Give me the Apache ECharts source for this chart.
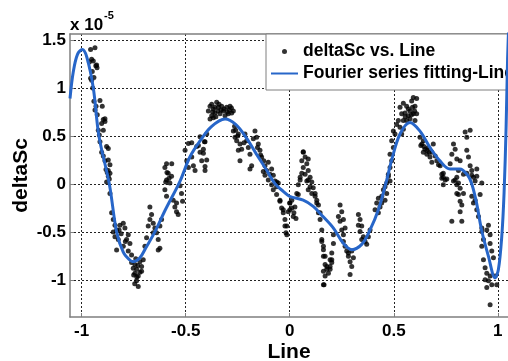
<!DOCTYPE html>
<html>
<head>
<meta charset="utf-8">
<script src="https://cdn.jsdelivr.net/npm/echarts@6/dist/echarts.min.js"></script>
<style>
  html, body { margin: 0; padding: 0; background: #fff; }
  #chart { width: 508px; height: 361px; }
</style>
</head>
<body>
<div id="chart"></div>
<script>
// values in units of 1e-5
const xTicks = [-1, -0.5, 0, 0.5, 1];
const yTicks = [-1, -0.5, 0, 0.5, 1, 1.5];

// fitted Fourier curve
const fitPoints = [
  [-1.056, 0.89], [-1.04, 1.17], [-1.02, 1.35], [-0.997, 1.40], [-0.975, 1.32],
  [-0.944, 1.00], [-0.917, 0.50], [-0.867, 0.00], [-0.832, -0.50], [-0.80, -0.71],
  [-0.77, -0.79], [-0.752, -0.81], [-0.72, -0.77], [-0.69, -0.66], [-0.648, -0.50],
  [-0.60, -0.28], [-0.527, 0.03], [-0.48, 0.28], [-0.43, 0.45], [-0.38, 0.59],
  [-0.311, 0.675], [-0.26, 0.62], [-0.21, 0.485], [-0.16, 0.31], [-0.11, 0.14],
  [-0.07, 0.00], [-0.03, -0.08], [0.0, -0.13], [0.065, -0.17], [0.113, -0.235],
  [0.16, -0.34], [0.21, -0.46], [0.258, -0.62], [0.298, -0.685], [0.346, -0.63],
  [0.386, -0.48], [0.426, -0.27], [0.466, 0.04], [0.49, 0.25], [0.53, 0.52],
  [0.578, 0.64], [0.626, 0.55], [0.674, 0.38], [0.722, 0.24], [0.77, 0.155],
  [0.818, 0.155], [0.855, 0.09], [0.874, 0.007], [0.898, -0.2], [0.922, -0.48],
  [0.955, -0.755], [0.987, -0.98], [1.003, -0.89], [1.019, -0.55], [1.03, -0.1],
  [1.04, 0.6], [1.047, 1.3], [1.055, 1.8]
];

// scattered samples, grouped by stretch of the x axis
const dotsFirstPeak = [
  [-0.957, 1.40], [-0.936, 1.42], [-0.963, 1.27], [-0.952, 1.30], [-0.944, 1.28], [-0.928, 1.24],
  [-0.932, 1.23], [-0.926, 1.21], [-0.949, 1.17], [-0.941, 1.11], [-0.952, 1.08], [-0.957, 1.10],
  [-0.947, 1.00], [-0.912, 0.87], [-0.941, 0.86], [-0.931, 0.81], [-0.901, 0.81], [-0.936, 0.77],
  [-0.925, 0.72], [-0.888, 0.68], [-0.896, 0.67], [-0.888, 0.65], [-0.904, 0.63], [-0.92, 0.56],
  [-0.896, 0.56], [-0.915, 0.51], [-0.912, 0.44], [-0.88, 0.39], [-0.872, 0.37], [-0.904, 0.33],
  [-0.896, 0.29], [-0.872, 0.25], [-0.888, 0.24], [-0.864, 0.20], [-0.883, 0.15], [-0.877, 0.12],
  [-0.864, 0.11], [-0.872, 0.08], [-0.867, 0.05], [-0.88, 0.02]
];
const dotsFirstDip = [
  [-0.872, 0.14], [-0.864, -0.10], [-0.856, -0.30], [-0.848, -0.37], [-0.84, -0.43], [-0.832, -0.48],
  [-0.84, -0.55], [-0.824, -0.58], [-0.832, -0.69], [-0.816, -0.43], [-0.80, -0.41], [-0.792, -0.46],
  [-0.776, -0.53], [-0.784, -0.58], [-0.768, -0.62], [-0.80, -0.65], [-0.776, -0.70], [-0.76, -0.74],
  [-0.76, -0.82], [-0.752, -0.88], [-0.736, -0.89], [-0.744, -0.93], [-0.728, -0.96], [-0.736, -1.01],
  [-0.728, -1.07], [-0.712, -0.86], [-0.72, -0.81], [-0.704, -0.79], [-0.712, -0.91], [-0.744, -0.84],
  [-0.75, -0.95], [-0.74, -0.78], [-0.73, -0.85], [-0.72, -0.92], [-0.745, -1.04], [-0.735, -0.97],
  [-0.848, -0.50], [-0.82, -0.48], [-0.81, -0.52], [-0.79, -0.60],
  [-0.696, -0.65], [-0.688, -0.56], [-0.68, -0.44], [-0.672, -0.37], [-0.672, -0.24], [-0.664, -0.32],
  [-0.656, -0.41], [-0.648, -0.46], [-0.64, -0.51], [-0.632, -0.58], [-0.624, -0.67], [-0.632, -0.69],
  [-0.656, -0.51], [-0.624, -0.44], [-0.616, -0.37], [-0.60, -0.06], [-0.592, 0.04], [-0.584, 0.11],
  [-0.576, 0.01], [-0.592, -0.13], [-0.56, -0.17], [-0.552, -0.24], [-0.544, -0.29], [-0.536, -0.32],
  [-0.544, -0.20], [-0.568, 0.08], [-0.6, 0.17], [-0.59, 0.12], [-0.58, 0.06], [-0.596, 0.02],
  [-0.592, 0.21], [-0.527, -0.02], [-0.52, -0.10], [-0.515, -0.18]
];
const dotsSecondPeak = [
  [-0.567, 0.21], [-0.503, 0.35], [-0.495, 0.24], [-0.487, 0.17], [-0.487, 0.42], [-0.471, 0.28],
  [-0.471, 0.43], [-0.463, 0.19], [-0.455, 0.14], [-0.447, 0.39], [-0.439, 0.40], [-0.431, 0.33],
  [-0.431, 0.49], [-0.423, 0.24], [-0.415, 0.36], [-0.415, 0.32], [-0.41, 0.44], [-0.407, 0.14],
  [-0.407, 0.18], [-0.399, 0.25], [-0.399, 0.52], [-0.407, 0.44],
  [-0.383, 0.81], [-0.375, 0.83], [-0.367, 0.78], [-0.359, 0.74], [-0.351, 0.85], [-0.343, 0.80],
  [-0.335, 0.73], [-0.327, 0.81], [-0.319, 0.76], [-0.311, 0.71], [-0.303, 0.80], [-0.287, 0.81],
  [-0.279, 0.74], [-0.271, 0.76], [-0.375, 0.71], [-0.383, 0.675], [-0.367, 0.69], [-0.391, 0.76],
  [-0.295, 0.73], [-0.36, 0.80], [-0.345, 0.76], [-0.33, 0.77], [-0.315, 0.78], [-0.30, 0.75],
  [-0.29, 0.77], [-0.37, 0.75], [-0.355, 0.70], [-0.34, 0.83], [-0.28, 0.79],
  [-0.271, 0.55], [-0.263, 0.485], [-0.255, 0.45], [-0.247, 0.52], [-0.239, 0.415], [-0.247, 0.35],
  [-0.239, 0.24], [-0.231, 0.36], [-0.215, 0.52], [-0.207, 0.45], [-0.199, 0.38], [-0.191, 0.31],
  [-0.183, 0.19], [-0.191, 0.155], [-0.167, 0.55], [-0.159, 0.485], [-0.151, 0.415], [-0.143, 0.35],
  [-0.135, 0.28], [-0.119, 0.19], [-0.103, 0.225], [-0.111, 0.14], [-0.095, 0.10], [-0.079, 0.09],
  [-0.071, 0.03], [-0.063, 0.02], [-0.087, 0.155], [-0.127, 0.13], [-0.265, 0.60], [-0.26, 0.56],
  [-0.25, 0.50], [-0.22, 0.43], [-0.175, 0.47], [-0.155, 0.38], [-0.14, 0.30], [-0.125, 0.24]
];
const dotsMiddle = [
  [-0.119, 0.09], [-0.103, 0.04], [-0.087, -0.01], [-0.079, -0.06], [-0.063, -0.11], [-0.047, -0.18],
  [-0.039, -0.25], [-0.031, -0.30], [-0.023, -0.37], [-0.014, -0.44], [-0.018, -0.51], [-0.007, -0.29],
  [0.001, -0.20], [-0.055, 0.01], [-0.063, -0.03], [-0.047, -0.17], [-0.031, -0.27], [-0.023, -0.44],
  [-0.014, -0.53], [0.001, -0.27], [0.017, -0.34], [0.01, -0.17], [0.025, -0.24], [0.034, -0.10],
  [0.041, -0.01], [0.05, 0.04], [0.0, -0.2], [0.01, -0.25], [0.02, -0.30], [0.03, -0.36],
  [0.065, 0.33], [0.074, 0.28], [0.058, 0.24], [0.082, 0.21], [0.065, 0.17], [0.089, 0.14],
  [0.074, 0.10], [0.098, 0.07], [0.082, 0.03], [0.106, 0.02], [0.05, 0.07], [0.089, 0.26],
  [0.065, 0.335], [0.058, 0.11], [0.041, -0.11],
  [0.089, 0.04], [0.089, -0.06], [0.098, -0.03], [0.106, -0.10], [0.113, -0.04], [0.122, -0.13],
  [0.13, -0.20], [0.138, -0.30], [0.146, -0.37], [0.154, -0.48], [0.154, -0.58], [0.162, -0.65],
  [0.17, -0.755], [0.178, -0.86], [0.186, -0.93], [0.17, -0.96], [0.194, -0.89], [0.165, -1.05],
  [0.162, -0.91], [0.202, -0.82], [0.194, -0.79], [0.122, -0.10], [0.13, -0.17], [0.138, -0.22],
  [0.146, -0.30], [0.154, -0.60], [0.162, -0.685], [0.162, -0.755], [0.17, -0.84], [0.178, -0.89],
  [0.162, -1.05], [0.194, -0.86], [0.202, -0.79], [0.202, -0.72], [0.21, -0.62], [0.21, -0.53],
  [0.242, -0.22], [0.25, -0.29], [0.234, -0.34], [0.242, -0.39], [0.258, -0.37], [0.25, -0.48],
  [0.258, -0.53], [0.266, -0.46], [0.258, -0.60], [0.266, -0.65], [0.274, -0.70], [0.282, -0.755],
  [0.29, -0.81], [0.298, -0.86], [0.29, -0.945], [0.282, -0.72], [0.306, -0.77], [0.298, -0.70],
  [0.33, -0.32], [0.338, -0.37], [0.33, -0.43], [0.338, -0.495], [0.346, -0.44], [0.354, -0.55],
  [0.362, -0.60], [0.37, -0.63], [0.346, -0.58], [0.378, -0.55], [0.386, -0.48],
  [0.41, -0.27], [0.418, -0.20], [0.426, -0.15], [0.434, -0.24], [0.442, -0.13], [0.45, -0.06],
  [0.458, -0.03], [0.466, 0.01], [0.466, -0.10], [0.474, 0.08], [0.458, -0.17], [0.442, -0.20],
  [0.426, -0.30]
];
const dotsThirdPeak = [
  [0.498, 0.55], [0.506, 0.52], [0.49, 0.45], [0.498, 0.38], [0.482, 0.31], [0.49, 0.24],
  [0.482, 0.17], [0.474, 0.10], [0.482, 0.03], [0.514, 0.62], [0.522, 0.66],
  [0.53, 0.80], [0.538, 0.73], [0.546, 0.66], [0.554, 0.74], [0.562, 0.81], [0.57, 0.71],
  [0.578, 0.76], [0.586, 0.865], [0.594, 0.90], [0.602, 0.81], [0.594, 0.73], [0.602, 0.66],
  [0.546, 0.57], [0.538, 0.52], [0.53, 0.59], [0.562, 0.66], [0.578, 0.68], [0.61, 0.73],
  [0.61, 0.89], [0.546, 0.84], [0.57, 0.78], [0.585, 0.72], [0.555, 0.70], [0.59, 0.80], [0.60, 0.76],
  [0.626, 0.485], [0.635, 0.415], [0.642, 0.45], [0.65, 0.36], [0.659, 0.31], [0.642, 0.33],
  [0.666, 0.38], [0.674, 0.28], [0.683, 0.225], [0.69, 0.415], [0.683, 0.33], [0.699, 0.29],
  [0.707, 0.24], [0.723, 0.19], [0.731, 0.10], [0.738, 0.07], [0.755, 0.05], [0.771, 0.21],
  [0.779, 0.31], [0.787, 0.415], [0.795, 0.36], [0.803, 0.26], [0.811, 0.14], [0.819, 0.24],
  [0.835, 0.10], [0.843, 0.54], [0.851, 0.485], [0.851, 0.35], [0.859, 0.28], [0.867, 0.19],
  [0.875, 0.14], [0.883, 0.07], [0.891, 0.03], [0.899, 0.155], [0.803, 0.07], [0.787, 0.03],
  [0.867, 0.56], [0.63, 0.40], [0.645, 0.39], [0.66, 0.35], [0.67, 0.33], [0.715, 0.20]
];
const dotsLastDip = [
  [0.738, 0.11], [0.731, 0.06], [0.747, 0.04], [0.738, -0.01], [0.811, 0.01], [0.819, -0.045],
  [0.811, -0.11], [0.819, -0.18], [0.827, -0.22], [0.819, -0.29], [0.827, -0.39], [0.835, -0.10],
  [0.803, -0.10], [0.851, 0.11], [0.875, 0.09], [0.899, 0.08], [0.923, 0.01], [0.875, -0.13],
  [0.883, -0.20], [0.891, -0.17], [0.899, -0.27], [0.907, -0.34], [0.915, -0.11], [0.923, -0.46],
  [0.923, -0.495], [0.931, -0.58], [0.923, -0.65], [0.947, -0.48], [0.955, -0.43], [0.963, -0.53],
  [0.963, -0.62], [0.971, -0.70], [0.931, -0.79], [0.939, -0.875], [0.947, -0.93], [0.979, -0.77],
  [0.963, -0.96], [0.955, -1.01], [0.971, -1.05], [0.947, -1.08], [0.995, -1.05], [0.987, -0.96],
  [0.963, -1.26], [0.939, -1.00], [0.779, -0.39], [0.795, 0.04], [0.803, -0.01]
];

const dotPoints = [].concat(dotsFirstPeak, dotsFirstDip, dotsSecondPeak, dotsMiddle, dotsThirdPeak, dotsLastDip);

const frameColor = '#7f7f7f';
const gridLine = { show: true, lineStyle: { color: '#222', width: 1, type: [2, 2] } };
const labelFont = { fontFamily: 'Liberation Sans, Arial, sans-serif', fontWeight: 'bold', color: '#000' };

const chart = echarts.init(document.getElementById('chart'));

chart.setOption({
  animation: false,
  backgroundColor: '#fff',
  grid: { left: 70, right: 0, top: 34, bottom: 44, outerBoundsMode: 'none', containLabel: false },
  xAxis: [
    {
      type: 'value',
      min: -1.056,
      max: 1.049,
      name: 'Line',
      nameLocation: 'middle',
      nameGap: 25,
      nameMoveOverlap: false,
      nameTextStyle: Object.assign({ fontSize: 21 }, labelFont),
      axisLine: { show: true, onZero: false, lineStyle: { color: frameColor, width: 1.5 } },
      axisTick: { show: true, inside: true, length: 4, customValues: xTicks, lineStyle: { color: frameColor } },
      axisLabel: Object.assign({ fontSize: 17, margin: 6, customValues: xTicks, formatter: v => String(v) }, labelFont),
      splitLine: gridLine
    },
    {
      type: 'value',
      position: 'top',
      min: -1.056,
      max: 1.049,
      axisLine: { show: true, onZero: false, lineStyle: { color: frameColor, width: 1.5 } },
      axisTick: { show: false },
      axisLabel: { show: false },
      splitLine: { show: false }
    }
  ],
  yAxis: {
    type: 'value',
    min: -1.387,
    max: 1.562,
    name: 'deltaSc',
    nameLocation: 'middle',
    nameGap: 38,
    nameMoveOverlap: false,
    nameTextStyle: Object.assign({ fontSize: 21 }, labelFont),
    axisLine: { show: true, onZero: false, lineStyle: { color: frameColor, width: 1.5 } },
    axisTick: { show: true, inside: true, length: 4, customValues: yTicks, lineStyle: { color: frameColor } },
    axisLabel: Object.assign({ fontSize: 17, margin: 4, customValues: yTicks, formatter: v => String(v) }, labelFont),
    splitLine: gridLine
  },
  legend: {
    orient: 'vertical',
    left: 266,
    top: 34,
    padding: [7, 12, 6, 4],
    itemWidth: 27,
    itemHeight: 5,
    itemGap: 1,
    backgroundColor: '#fff',
    borderColor: '#7f7f7f',
    borderWidth: 1,
    borderRadius: 0,
    textStyle: Object.assign({ fontSize: 17.5, lineHeight: 21 }, labelFont),
    data: [
      { name: 'deltaSc vs. Line', icon: 'circle' },
      { name: 'Fourier series fitting-Line', itemStyle: { opacity: 0 }, lineStyle: { opacity: 1 } }
    ]
  },
  graphic: [
    {
      type: 'text', left: 70, top: 17,
      style: { text: 'x 10', font: 'bold 17px "Liberation Sans", Arial, sans-serif', fill: '#000' }
    },
    {
      type: 'text', left: 104, top: 10,
      style: { text: '-5', font: 'bold 11px "Liberation Sans", Arial, sans-serif', fill: '#000' }
    }
  ],
  series: [
    {
      name: 'deltaSc vs. Line',
      type: 'scatter',
      data: dotPoints,
      symbolSize: 5,
      itemStyle: { color: '#000' },
      z: 3
    },
    {
      name: 'Fourier series fitting-Line',
      type: 'line',
      data: fitPoints,
      smooth: 0.35,
      symbol: 'none',
      lineStyle: { color: '#2766c9', width: 3 },
      z: 4
    }
  ]
});
</script>
</body>
</html>
